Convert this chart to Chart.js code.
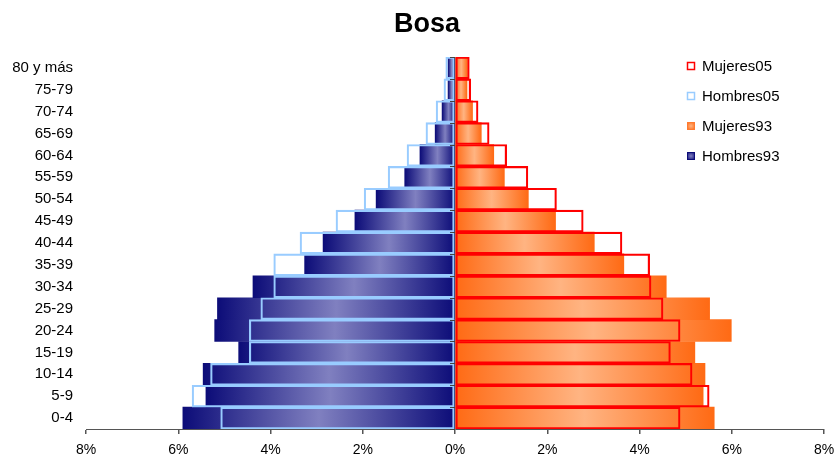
<!DOCTYPE html>
<html>
<head>
<meta charset="utf-8">
<script src="https://cdn.jsdelivr.net/npm/chart.js@4"></script>
<style>
  html, body { margin: 0; padding: 0; background: #fff; }
  #wrap { width: 837px; height: 458px; }
</style>
</head>
<body>
<div id="wrap"><canvas id="pyramide"></canvas></div>
<script>
const grupos = ["0-4", "5-9", "10-14", "15-19", "20-24", "25-29", "30-34", "35-39", "40-44",
  "45-49", "50-54", "55-59", "60-64", "65-69", "70-74", "75-79", "80 y más"];

// porcentajes, de 0-4 hasta 80 y más
const mujeres05 = [4.88, 5.51, 5.14, 4.67, 4.88, 4.51, 4.25, 4.22, 3.62, 2.78, 2.20, 1.58, 1.12, 0.74, 0.50, 0.34, 0.31];
const hombres05 = [5.08, 5.70, 5.30, 4.46, 4.46, 4.21, 3.93, 3.93, 3.36, 2.58, 1.97, 1.45, 1.04, 0.63, 0.41, 0.24, 0.20];
const mujeres93 = [5.62, 5.38, 5.42, 5.20, 5.99, 5.52, 4.58, 3.66, 3.02, 2.18, 1.59, 1.07, 0.84, 0.57, 0.38, 0.26, 0.27];
const hombres93 = [5.90, 5.40, 5.46, 4.69, 5.21, 5.15, 4.38, 3.26, 2.86, 2.17, 1.71, 1.09, 0.76, 0.43, 0.28, 0.15, 0.15];

const titulo = "Bosa";
const FONT = "'Liberation Sans', Arial, sans-serif";

function degradado(ctx, borde, centro) {
  const chart = ctx.chart;
  if (!chart.chartArea || ctx.type !== "data") return borde;
  const xs = chart.scales.x;
  const x0 = xs.getPixelForValue(0);
  const x1 = xs.getPixelForValue(ctx.raw);
  if (x0 === x1) return borde;
  const g = chart.ctx.createLinearGradient(x0, 0, x1, 0);
  g.addColorStop(0, borde);
  g.addColorStop(0.5, centro);
  g.addColorStop(1, borde);
  return g;
}

// título, marcas del eje en 0 y leyenda dibujados a mano
const leyendaPlugin = {
  id: "leyenda",
  afterDraw(chart) {
    const c = chart.ctx;
    const area = chart.chartArea;
    const x0 = chart.scales.x.getPixelForValue(0);
    const paso = (area.bottom - area.top) / grupos.length;
    c.save();
    c.strokeStyle = "#444";
    c.lineWidth = 1;
    for (let i = 0; i <= grupos.length; i++) {
      const y = Math.round(area.top + i * paso) + 0.5;
      c.beginPath();
      c.moveTo(x0 - 5, y);
      c.lineTo(x0, y);
      c.stroke();
    }

    c.font = "bold 27px " + FONT;
    c.textAlign = "center";
    c.textBaseline = "alphabetic";
    c.fillStyle = "#000";
    c.fillText(titulo, 427, 32);

    const items = [
      { txt: "Mujeres05", tipo: "borde", color: "#ff0000" },
      { txt: "Hombres05", tipo: "borde", color: "#99ccff" },
      { txt: "Mujeres93", tipo: "relleno", a: "#ff6a14", b: "#ffb482", borde: "#ff7a30" },
      { txt: "Hombres93", tipo: "relleno", a: "#0c0c78", b: "#8080c0", borde: "#0c0c78" }
    ];
    c.font = "15px " + FONT;
    c.textAlign = "left";
    c.textBaseline = "middle";
    items.forEach((it, i) => {
      const y = 66 + i * 30;
      const x = 687;
      if (it.tipo === "borde") {
        c.fillStyle = "#fff";
        c.fillRect(x, y - 4, 8, 8);
        c.strokeStyle = it.color;
        c.lineWidth = 1.5;
        c.strokeRect(x + 0.5, y - 3.5, 7, 7);
      } else {
        const g = c.createRadialGradient(x + 4, y, 0, x + 4, y, 5);
        g.addColorStop(0, it.b);
        g.addColorStop(1, it.a);
        c.fillStyle = g;
        c.fillRect(x, y - 4, 8, 8);
        c.strokeStyle = it.borde;
        c.lineWidth = 1;
        c.strokeRect(x + 0.5, y - 3.5, 7, 7);
      }
      c.fillStyle = "#000";
      c.fillText(it.txt, 702, y + 1);
    });
    c.restore();
  }
};

const barraComun = {
  grouped: false,
  barPercentage: 1,
  categoryPercentage: 1
};

const config = {
  type: "bar",
  data: {
    labels: grupos,
    datasets: [
      { ...barraComun, label: "Mujeres05", data: mujeres05,
        backgroundColor: "rgba(0,0,0,0)", borderColor: "#ff0000", borderWidth: 1.5, borderSkipped: false },
      { ...barraComun, label: "Hombres05", data: hombres05.map(v => -v),
        backgroundColor: "rgba(0,0,0,0)", borderColor: "#99ccff", borderWidth: 1.5, borderSkipped: false },
      { ...barraComun, label: "Mujeres93", data: mujeres93,
        backgroundColor: ctx => degradado(ctx, "#ff6a14", "#ffb482"), borderWidth: 0 },
      { ...barraComun, label: "Hombres93", data: hombres93.map(v => -v),
        backgroundColor: ctx => degradado(ctx, "#0c0c78", "#8080c0"), borderWidth: 0 }
    ]
  },
  options: {
    indexAxis: "y",
    responsive: true,
    maintainAspectRatio: false,
    animation: false,
    layout: { padding: { left: 0, right: 13, top: 57, bottom: 0 } },
    plugins: {
      legend: { display: false },
      tooltip: { enabled: false },
      title: { display: false }
    },
    scales: {
      x: {
        min: -8,
        max: 8,
        z: 1,
        afterFit: s => { s.height = 29; s.paddingLeft = 0; s.paddingRight = 0; },
        ticks: {
          stepSize: 2,
          color: "#000",
          padding: 8,
          font: { family: FONT, size: 14 },
          callback: v => Math.abs(v) + "%"
        },
        grid: {
          color: ctx => (ctx.tick && ctx.tick.value === 0 ? "#222" : "rgba(0,0,0,0)"),
          tickColor: "#555",
          tickLength: 5,
          lineWidth: 1.5
        },
        border: { color: "#555", width: 1 }
      },
      y: {
        reverse: true,
        afterFit: s => { s.width = 86; },
        ticks: {
          color: "#000",
          padding: 13,
          font: { family: FONT, size: 15 }
        },
        grid: { display: false, drawTicks: false },
        border: { display: false }
      }
    }
  },
  plugins: [leyendaPlugin]
};

new Chart(document.getElementById("pyramide"), config);
</script>
</body>
</html>
